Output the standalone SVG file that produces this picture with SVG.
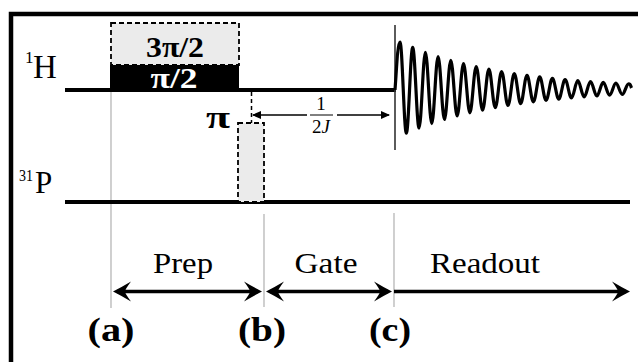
<svg xmlns="http://www.w3.org/2000/svg" width="638" height="362" viewBox="0 0 638 362">
<style>
.serif{font-family:"Liberation Serif","Times New Roman",Tinos,serif;fill:#000}
.b{font-weight:bold}
.rail{stroke:#000;stroke-width:4;fill:none}
.guide{stroke:#c4c4c4;stroke-width:1.6;fill:none}
.dash{stroke:#000;stroke-width:1.8;stroke-dasharray:5,3;fill:#ebebeb}
.bigarrow{stroke:#000;stroke-width:3.5;fill:none}
.thinarrow{stroke:#000;stroke-width:1.5;fill:none}
</style>
<defs>
<marker id="big" viewBox="0 0 22 22" markerWidth="22" markerHeight="22" refX="16" refY="11" orient="auto-start-reverse" markerUnits="userSpaceOnUse">
<path d="M20,11 Q12,7 2,1 Q8,9 8,11 Q8,13 2,21 Q12,15 20,11 Z" fill="#000"/>
</marker>
<marker id="small" viewBox="0 0 10 10" markerWidth="10" markerHeight="10" refX="8" refY="5" orient="auto-start-reverse" markerUnits="userSpaceOnUse">
<path d="M9,5 L0,1 L0,9 Z" fill="#000"/>
</marker>
</defs>
<rect x="0" y="0" width="638" height="362" fill="#fff"/>
<rect x="11" y="14" width="700" height="400" fill="none" stroke="#000" stroke-width="4.5"/>

<g id="guides">
<line class="guide" x1="111" y1="92" x2="111" y2="308"/>
<line class="guide" x1="264" y1="214" x2="264" y2="307"/>
<line class="guide" x1="394" y1="213" x2="394" y2="307"/>
</g>

<g id="H-channel">
<text class="serif" x="25" y="63" font-size="17">1</text>
<text class="serif" x="33" y="78" font-size="33">H</text>
<line class="rail" x1="65" y1="90" x2="396" y2="90"/>
</g>

<g id="P-channel">
<text class="serif" x="19" y="181" font-size="16" textLength="14" lengthAdjust="spacingAndGlyphs">31</text>
<text class="serif" x="35" y="193" font-size="31">P</text>
<line class="rail" x1="65" y1="202" x2="630" y2="202"/>
</g>

<g id="pulse-3pi2">
<rect class="dash" x="111" y="23" width="128" height="42"/>
<text class="serif b" x="175" y="57" font-size="30" text-anchor="middle" textLength="58" lengthAdjust="spacingAndGlyphs">3π/2</text>
</g>

<g id="pulse-pi2">
<rect x="110" y="65" width="129" height="26" fill="#000"/>
<text class="b" x="174" y="88" font-size="29" text-anchor="middle" font-family="Liberation Serif, Times New Roman, serif" fill="#fff" textLength="47" lengthAdjust="spacingAndGlyphs">π/2</text>
</g>

<g id="pulse-pi">
<rect class="dash" x="238" y="123" width="26" height="79"/>
<text class="serif b" x="206" y="128" font-size="31" textLength="24" lengthAdjust="spacingAndGlyphs">π</text>
</g>

<g id="fid">
<line x1="395" y1="25" x2="395" y2="150" stroke="#333" stroke-width="1.6"/>
<path fill="none" stroke="#000" stroke-width="3.2" stroke-linejoin="round" d="M395,90 C396.5,70 397.7,42 400,42 S404.04,133.19 406.35,133.19 S410.39,47.45 412.7,47.45 S416.74,128.06 419.05,128.06 S423.09,52.27 425.4,52.27 S429.44,123.53 431.75,123.53 S435.79,56.53 438.1,56.53 S442.14,119.52 444.45,119.52 S448.49,60.3 450.8,60.3 S454.84,115.98 457.15,115.98 S461.19,63.63 463.5,63.63 S467.54,112.85 469.85,112.85 S473.89,66.57 476.2,66.57 S480.24,110.09 482.55,110.09 S486.59,69.18 488.9,69.18 S492.94,107.64 495.25,107.64 S499.29,71.48 501.6,71.48 S505.64,105.48 507.95,105.48 S511.99,73.51 514.3,73.51 S518.34,103.57 520.65,103.57 S524.69,75.31 527,75.31 S531.04,101.88 533.35,101.88 S537.39,76.89 539.7,76.89 S543.74,100.38 546.05,100.38 S550.09,78.3 552.4,78.3 S556.44,99.06 558.75,99.06 S562.79,79.54 565.1,79.54 S569.14,97.9 571.45,97.9 S575.49,80.64 577.8,80.64 S581.84,96.86 584.15,96.86 S588.19,81.61 590.5,81.61 S594.54,95.95 596.85,95.95 S600.89,82.46 603.2,82.46 S607.24,95.15 609.55,95.15 S613.59,83.22 615.9,83.22 S619.94,94.43 622.25,94.43 S626.29,83.89 628.6,83.89 S631,87 631.5,88"/>
</g>

<g id="delay">
<line x1="251.5" y1="92" x2="251.5" y2="123" stroke="#000" stroke-width="1.5" stroke-dasharray="4,3"/>
<text class="serif" x="321" y="110" font-size="19" text-anchor="middle">1</text>
<text class="serif" x="321" y="133" font-size="19" text-anchor="middle">2<tspan font-style="italic">J</tspan></text>
<line x1="310" y1="115" x2="333" y2="115" stroke="#000" stroke-width="1"/>
</g>

<g id="connectors">
<line class="thinarrow" x1="307" y1="115" x2="253" y2="115" marker-end="url(#small)"/>
<line class="thinarrow" x1="337" y1="115" x2="389" y2="115" marker-end="url(#small)"/>
<line class="bigarrow" x1="117" y1="291.5" x2="258" y2="291.5" marker-start="url(#big)" marker-end="url(#big)"/>
<line class="bigarrow" x1="270" y1="291.5" x2="388" y2="291.5" marker-start="url(#big)" marker-end="url(#big)"/>
<line class="bigarrow" x1="394" y1="291.5" x2="626" y2="291.5" marker-end="url(#big)"/>
</g>

<g id="labels">
<text class="serif" x="183" y="273" font-size="30" text-anchor="middle" textLength="60" lengthAdjust="spacingAndGlyphs">Prep</text>
<text class="serif" x="326" y="273" font-size="30" text-anchor="middle" textLength="63" lengthAdjust="spacingAndGlyphs">Gate</text>
<text class="serif" x="485" y="273" font-size="30" text-anchor="middle" textLength="110" lengthAdjust="spacingAndGlyphs">Readout</text>
<text class="serif b" x="111" y="341" font-size="34" text-anchor="middle" textLength="47" lengthAdjust="spacingAndGlyphs">(a)</text>
<text class="serif b" x="262" y="341" font-size="34" text-anchor="middle" textLength="48" lengthAdjust="spacingAndGlyphs">(b)</text>
<text class="serif b" x="390" y="341" font-size="34" text-anchor="middle" textLength="42" lengthAdjust="spacingAndGlyphs">(c)</text>
</g>
</svg>
